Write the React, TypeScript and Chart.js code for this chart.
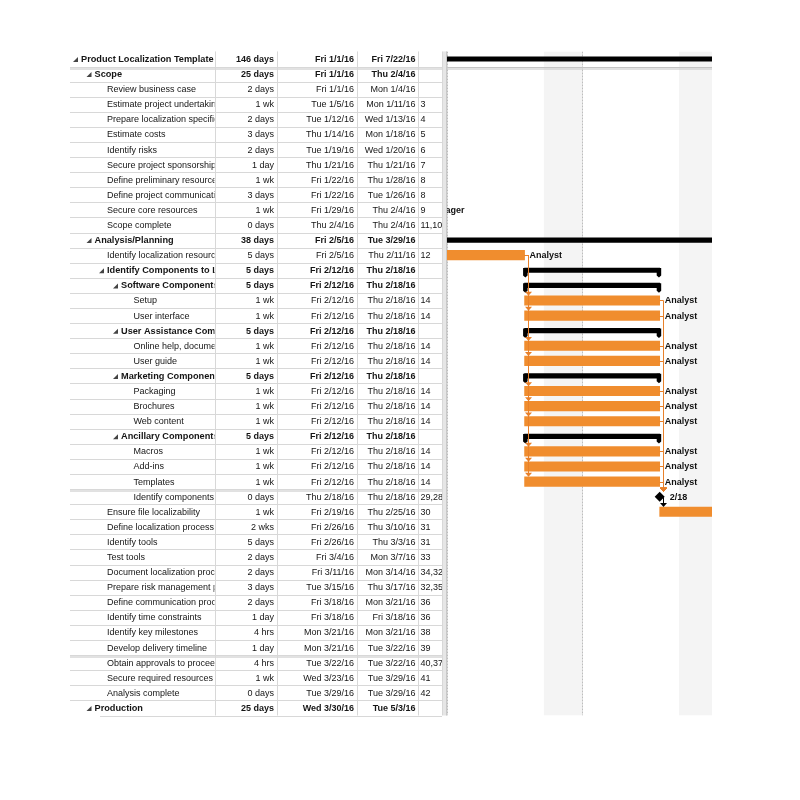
import React, { useEffect, useRef } from 'react';
import { Chart, registerables } from 'chart.js';

Chart.register(...registerables);

// ---------------- data ----------------
const taskNames = [
  'Product Localization Template',
  'Scope',
  'Review business case',
  'Estimate project undertaking',
  'Prepare localization specifications',
  'Estimate costs',
  'Identify risks',
  'Secure project sponsorship',
  'Define preliminary resources',
  'Define project communication plan',
  'Secure core resources',
  'Scope complete',
  'Analysis/Planning',
  'Identify localization resources',
  'Identify Components to Localize',
  'Software Components',
  'Setup',
  'User interface',
  'User Assistance Components',
  'Online help, documentation',
  'User guide',
  'Marketing Components',
  'Packaging',
  'Brochures',
  'Web content',
  'Ancillary Components',
  'Macros',
  'Add-ins',
  'Templates',
  'Identify components',
  'Ensure file localizability',
  'Define localization process',
  'Identify tools',
  'Test tools',
  'Document localization process',
  'Prepare risk management plan',
  'Define communication process',
  'Identify time constraints',
  'Identify key milestones',
  'Develop delivery timeline',
  'Obtain approvals to proceed',
  'Secure required resources',
  'Analysis complete',
  'Production',
];

const outlineLevels = [
  0, 1, 2, 2, 2, 2, 2, 2, 2, 2, 2, 2, 1, 2, 2, 3, 4, 4, 3, 4, 4, 3, 4, 4, 4, 3, 4, 4, 4, 4,
  2, 2, 2, 2, 2, 2, 2, 2, 2, 2, 2, 2, 2, 1,
];

const summaryRows = [0, 1, 12, 14, 15, 18, 21, 25, 43];

const durations = [
  '146 days', '25 days', '2 days', '1 wk', '2 days', '3 days', '2 days', '1 day', '1 wk', '3 days',
  '1 wk', '0 days', '38 days', '5 days', '5 days', '5 days', '1 wk', '1 wk', '5 days', '1 wk',
  '1 wk', '5 days', '1 wk', '1 wk', '1 wk', '5 days', '1 wk', '1 wk', '1 wk', '0 days',
  '1 wk', '2 wks', '5 days', '2 days', '2 days', '3 days', '2 days', '1 day', '4 hrs', '1 day',
  '4 hrs', '1 wk', '0 days', '25 days',
];

const startDates = [
  'Fri 1/1/16', 'Fri 1/1/16', 'Fri 1/1/16', 'Tue 1/5/16', 'Tue 1/12/16', 'Thu 1/14/16', 'Tue 1/19/16',
  'Thu 1/21/16', 'Fri 1/22/16', 'Fri 1/22/16', 'Fri 1/29/16', 'Thu 2/4/16', 'Fri 2/5/16', 'Fri 2/5/16',
  'Fri 2/12/16', 'Fri 2/12/16', 'Fri 2/12/16', 'Fri 2/12/16', 'Fri 2/12/16', 'Fri 2/12/16', 'Fri 2/12/16',
  'Fri 2/12/16', 'Fri 2/12/16', 'Fri 2/12/16', 'Fri 2/12/16', 'Fri 2/12/16', 'Fri 2/12/16', 'Fri 2/12/16',
  'Fri 2/12/16', 'Thu 2/18/16', 'Fri 2/19/16', 'Fri 2/26/16', 'Fri 2/26/16', 'Fri 3/4/16', 'Fri 3/11/16',
  'Tue 3/15/16', 'Fri 3/18/16', 'Fri 3/18/16', 'Mon 3/21/16', 'Mon 3/21/16', 'Tue 3/22/16', 'Wed 3/23/16',
  'Tue 3/29/16', 'Wed 3/30/16',
];

const finishDates = [
  'Fri 7/22/16', 'Thu 2/4/16', 'Mon 1/4/16', 'Mon 1/11/16', 'Wed 1/13/16', 'Mon 1/18/16', 'Wed 1/20/16',
  'Thu 1/21/16', 'Thu 1/28/16', 'Tue 1/26/16', 'Thu 2/4/16', 'Thu 2/4/16', 'Tue 3/29/16', 'Thu 2/11/16',
  'Thu 2/18/16', 'Thu 2/18/16', 'Thu 2/18/16', 'Thu 2/18/16', 'Thu 2/18/16', 'Thu 2/18/16', 'Thu 2/18/16',
  'Thu 2/18/16', 'Thu 2/18/16', 'Thu 2/18/16', 'Thu 2/18/16', 'Thu 2/18/16', 'Thu 2/18/16', 'Thu 2/18/16',
  'Thu 2/18/16', 'Thu 2/18/16', 'Thu 2/25/16', 'Thu 3/10/16', 'Thu 3/3/16', 'Mon 3/7/16', 'Mon 3/14/16',
  'Thu 3/17/16', 'Mon 3/21/16', 'Fri 3/18/16', 'Mon 3/21/16', 'Tue 3/22/16', 'Tue 3/22/16', 'Tue 3/29/16',
  'Tue 3/29/16', 'Tue 5/3/16',
];

const predecessors = [
  '', '', '', '3', '4', '5', '6', '7', '8', '8', '9', '11,10', '', '12', '', '', '14', '14', '', '14',
  '14', '', '14', '14', '14', '', '14', '14', '14', '29,28,27,25,24,23,21,20,18,17',
  '30', '31', '31', '33', '34,32', '32,35', '36', '36', '38', '39', '40,37', '41', '42', '',
];

const resourceNames = [
  '', '', '', '', '', '', '', '', '', '', 'Project Manager', '', '', 'Analyst', '', '', 'Analyst', 'Analyst',
  '', 'Analyst', 'Analyst', '', 'Analyst', 'Analyst', 'Analyst', '', 'Analyst', 'Analyst', 'Analyst', '',
  '', '', '', '', '', '', '', '', '', '', '', '', '', '',
];

// visible timeline window, in days since Fri 1/1/16
const timelineMinDay = 37.98;
const timelineMaxDay = 51.71;

// ---------------- helpers ----------------
function dayOf(s: string): number {
  const md = s.split(' ')[1];
  const [m, d, y] = md.split('/').map(Number);
  return (Date.UTC(2000 + y, m - 1, d) - Date.UTC(2016, 0, 1)) / 86400000;
}

const isSummary = (i: number) => summaryRows.includes(i);
const isMilestone = (i: number) => durations[i] === '0 days';

const rangeOf = (i: number): [number, number] => [dayOf(startDates[i]), dayOf(finishDates[i]) + 1];

const taskData = taskNames.map((_, i) => (!isSummary(i) && !isMilestone(i) ? rangeOf(i) : null));
const summaryData = taskNames.map((_, i) => (isSummary(i) ? rangeOf(i) : null));
const milestoneData = taskNames.map((_, i) => (isMilestone(i) ? dayOf(finishDates[i]) + 1 : null));

const FAMILY = '"Liberation Sans", Arial, sans-serif';
const REG = `9px ${FAMILY}`;
const BOLD = `bold 9px ${FAMILY}`;
const NAME_REG = `9px ${FAMILY}`;
const NAME_BOLD = `bold 9.2px ${FAMILY}`;
const ORANGE = '#F08D2E';
const LINK = '#E8802A';
const TASK_H = 9.5;
const SUM_H = 4.5;
const MS_R = 5;

const COL_EDGES = [70, 215, 277, 357, 418, 442];
const LEVEL_X = [81, 94.5, 107, 121, 133.5];

// ---------------- plugins ----------------
const backdropPlugin = {
  id: 'ganttBackdrop',
  beforeDatasetsDraw(chart: any) {
    const { ctx, chartArea: a, scales } = chart;
    const x = scales.x;
    const pitch = (a.bottom - a.top) / taskNames.length;
    ctx.save();
    ctx.beginPath();
    ctx.rect(a.left, a.top, a.right - a.left, a.bottom - a.top);
    ctx.clip();
    for (let d = Math.floor(x.min) - 2; d <= Math.ceil(x.max); d++) {
      const dow = (((5 + d) % 7) + 7) % 7; // 0 = Sunday
      if (dow === 6) {
        const x0 = x.getPixelForValue(d);
        const x1 = x.getPixelForValue(d + 2);
        ctx.fillStyle = '#F4F4F4';
        ctx.fillRect(x0, a.top, x1 - x0, a.bottom - a.top);
      }
    }
    for (let d = Math.floor(x.min); d <= Math.ceil(x.max); d++) {
      const dow = (((5 + d) % 7) + 7) % 7;
      if (dow === 1) {
        const px = Math.round(x.getPixelForValue(d)) + 0.5;
        ctx.strokeStyle = '#BDBDBD';
        ctx.lineWidth = 1;
        ctx.setLineDash([2, 1]);
        ctx.beginPath();
        ctx.moveTo(px, a.top);
        ctx.lineTo(px, a.bottom);
        ctx.stroke();
      }
    }
    ctx.setLineDash([]);
    const yb = Math.round(a.top + pitch) + 0.5;
    ctx.strokeStyle = '#C4C4C4';
    ctx.lineWidth = 1;
    ctx.beginPath();
    ctx.moveTo(a.left, yb);
    ctx.lineTo(a.right, yb);
    ctx.moveTo(a.left, yb + 1.5);
    ctx.lineTo(a.right, yb + 1.5);
    ctx.stroke();
    ctx.restore();
  },
};

const overlayPlugin = {
  id: 'ganttOverlay',
  afterDatasetsDraw(chart: any) {
    const { ctx, chartArea: a, scales } = chart;
    const x = scales.x;
    const y = scales.y;
    ctx.save();
    ctx.beginPath();
    ctx.rect(a.left, a.top, a.right - a.left, a.bottom - a.top);
    ctx.clip();

    // summary end caps
    ctx.fillStyle = '#000';
    summaryData.forEach((r, i) => {
      if (!r) return;
      const yc = y.getPixelForValue(i);
      const top = yc - SUM_H / 2;
      const xs = x.getPixelForValue(r[0]);
      const xe = x.getPixelForValue(r[1]);
      ctx.beginPath();
      ctx.moveTo(xs - 1.5, top);
      ctx.lineTo(xs + 3, top);
      ctx.lineTo(xs + 3, top + SUM_H + 3);
      ctx.lineTo(xs + 0.75, top + SUM_H + 5);
      ctx.lineTo(xs - 1.5, top + SUM_H + 3);
      ctx.closePath();
      ctx.fill();
      ctx.beginPath();
      ctx.moveTo(xe + 1.5, top);
      ctx.lineTo(xe - 3, top);
      ctx.lineTo(xe - 3, top + SUM_H + 3);
      ctx.lineTo(xe - 0.75, top + SUM_H + 5);
      ctx.lineTo(xe + 1.5, top + SUM_H + 3);
      ctx.closePath();
      ctx.fill();
    });

    // finish-to-start links
    const endX = (i: number) => (isMilestone(i) ? (milestoneData[i] as number) : rangeOf(i)[1]);
    const startX = (i: number) => (isMilestone(i) ? (milestoneData[i] as number) : rangeOf(i)[0]);
    predecessors.forEach((p, i) => {
      if (!p) return;
      p.split(',').forEach((id) => {
        const pi = Number(id) - 1;
        if (!(pi >= 0)) return;
        const xe = x.getPixelForValue(endX(pi));
        const ye = y.getPixelForValue(pi);
        const xs = x.getPixelForValue(startX(i));
        const ys = y.getPixelForValue(i);
        const topS = ys - (isMilestone(i) ? MS_R : TASK_H / 2);
        const vx = Math.round(Math.max(xe, xs) + 3) + 0.5;
        const col = isMilestone(pi) ? '#000' : LINK;
        ctx.strokeStyle = col;
        ctx.fillStyle = col;
        ctx.lineWidth = 1;
        ctx.beginPath();
        ctx.moveTo(xe, Math.round(ye) + 0.5);
        ctx.lineTo(vx, Math.round(ye) + 0.5);
        ctx.lineTo(vx, topS - 3.5);
        ctx.stroke();
        ctx.beginPath();
        ctx.moveTo(vx - 3.5, topS - 4);
        ctx.lineTo(vx + 3.5, topS - 4);
        ctx.lineTo(vx, topS);
        ctx.closePath();
        ctx.fill();
      });
    });

    // bar labels
    ctx.font = BOLD;
    ctx.fillStyle = '#111';
    ctx.textBaseline = 'middle';
    ctx.textAlign = 'left';
    taskNames.forEach((_, i) => {
      const yc = y.getPixelForValue(i);
      if (isMilestone(i)) {
        const f = finishDates[i].split(' ')[1].split('/');
        ctx.fillText(`${f[0]}/${f[1]}`, x.getPixelForValue(milestoneData[i] as number) + 10, yc + 0.5);
      } else if (resourceNames[i]) {
        ctx.fillText(resourceNames[i], x.getPixelForValue(rangeOf(i)[1]) + 5, yc + 0.5);
      }
    });
    ctx.restore();
  },
};

const tablePlugin = {
  id: 'taskTable',
  afterDraw(chart: any) {
    const { ctx, chartArea: a, scales } = chart;
    const y = scales.y;
    const n = taskNames.length;
    const pitch = (a.bottom - a.top) / n;
    ctx.save();

    // splitter between sheet and chart
    ctx.fillStyle = '#E6E6E6';
    ctx.fillRect(COL_EDGES[5] + 1, a.top, a.left - COL_EDGES[5] - 1, a.bottom - a.top);
    ctx.strokeStyle = '#C8C8C8';
    ctx.lineWidth = 1;
    ctx.beginPath();
    ctx.moveTo(a.left - 0.5, a.top);
    ctx.lineTo(a.left - 0.5, a.bottom);
    ctx.stroke();

    // horizontal row lines
    for (let i = 1; i <= n; i++) {
      const yy = Math.round(a.top + i * pitch) + 0.5;
      ctx.strokeStyle = '#D8D8D8';
      ctx.beginPath();
      ctx.moveTo(i === n ? 100 : COL_EDGES[0], yy);
      ctx.lineTo(COL_EDGES[5], yy);
      ctx.stroke();
      if (i === 1 || i === 29 || i === 40) {
        ctx.strokeStyle = '#C4C4C4';
        ctx.beginPath();
        ctx.moveTo(COL_EDGES[0], yy + 1.5);
        ctx.lineTo(COL_EDGES[5], yy + 1.5);
        ctx.stroke();
      }
    }
    // vertical column lines
    ctx.strokeStyle = '#D8D8D8';
    for (let c = 1; c < COL_EDGES.length; c++) {
      const xx = COL_EDGES[c] + 0.5;
      ctx.beginPath();
      ctx.moveTo(xx, a.top);
      ctx.lineTo(xx, a.bottom);
      ctx.stroke();
    }

    // cell texts
    ctx.textBaseline = 'middle';
    const clipText = (t: string, x0: number, x1: number, tx: number, ty: number, align: CanvasTextAlign) => {
      ctx.save();
      ctx.beginPath();
      ctx.rect(x0, ty - 8, x1 - x0, 16);
      ctx.clip();
      ctx.textAlign = align;
      ctx.fillText(t, tx, ty);
      ctx.restore();
    };
    taskNames.forEach((name, i) => {
      const yc = y.getPixelForValue(i) + 0.5;
      const bold = isSummary(i);
      const tx = LEVEL_X[outlineLevels[i]];
      if (bold) {
        ctx.fillStyle = '#444';
        ctx.beginPath();
        ctx.moveTo(tx - 3, yc - 2.5);
        ctx.lineTo(tx - 3, yc + 2.5);
        ctx.lineTo(tx - 8, yc + 2.5);
        ctx.closePath();
        ctx.fill();
      }
      ctx.fillStyle = '#151515';
      ctx.font = bold ? NAME_BOLD : NAME_REG;
      clipText(name, COL_EDGES[0], COL_EDGES[1] - 0.5, tx, yc, 'left');
      ctx.font = bold ? BOLD : REG;
      clipText(durations[i], COL_EDGES[1], COL_EDGES[2], COL_EDGES[2] - 3, yc, 'right');
      clipText(startDates[i], COL_EDGES[2], COL_EDGES[3], COL_EDGES[3] - 3, yc, 'right');
      clipText(finishDates[i], COL_EDGES[3], COL_EDGES[4], COL_EDGES[4] - 2.5, yc, 'right');
      ctx.font = REG;
      clipText(predecessors[i], COL_EDGES[4], COL_EDGES[5], COL_EDGES[4] + 2.5, yc, 'left');
    });
    ctx.restore();
  },
};

// ---------------- component ----------------
export default function App() {
  const ref = useRef<HTMLCanvasElement>(null);
  useEffect(() => {
    const canvas = ref.current;
    if (!canvas) return;
    const chart = new Chart(canvas, {
      type: 'bar',
      data: {
        labels: taskNames,
        datasets: [
          {
            label: 'Summary',
            data: summaryData as any,
            backgroundColor: '#000',
            barThickness: SUM_H,
            grouped: false,
            borderSkipped: false,
            borderWidth: 0,
          } as any,
          {
            label: 'Tasks',
            data: taskData as any,
            backgroundColor: ORANGE,
            barThickness: TASK_H,
            grouped: false,
            borderWidth: 0,
          } as any,
          {
            type: 'line',
            label: 'Milestones',
            data: milestoneData as any,
            indexAxis: 'y',
            showLine: false,
            pointStyle: 'rectRot',
            pointRadius: MS_R,
            pointBackgroundColor: '#000',
            pointBorderColor: '#000',
            pointBorderWidth: 0,
          } as any,
        ],
      },
      options: {
        indexAxis: 'y',
        responsive: false,
        animation: false,
        devicePixelRatio: 1,
        layout: { padding: { left: 447, right: 88, top: 51.45, bottom: 84.5 } },
        scales: {
          x: { type: 'linear', min: timelineMinDay, max: timelineMaxDay, display: false },
          y: { type: 'category', display: false, offset: true },
        },
        plugins: { legend: { display: false }, tooltip: { enabled: false } },
      } as any,
      plugins: [backdropPlugin, overlayPlugin, tablePlugin],
    });
    return () => chart.destroy();
  }, []);
  return (
    <div style={{ position: 'absolute', left: 0, top: 0, width: 800, height: 800, background: '#fff' }}>
      <canvas ref={ref} width={800} height={800} style={{ display: 'block', width: 800, height: 800 }} />
    </div>
  );
}
